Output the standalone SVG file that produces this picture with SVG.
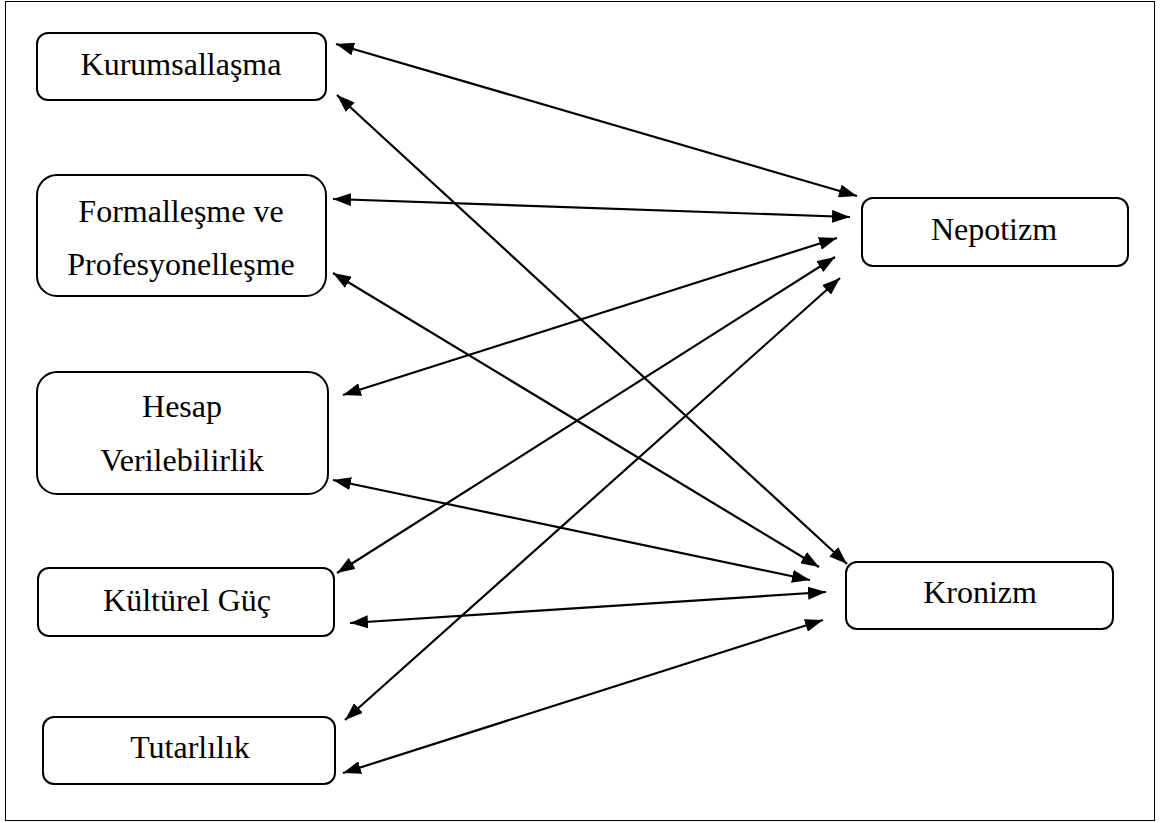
<svg xmlns="http://www.w3.org/2000/svg" width="1160" height="823" viewBox="0 0 1160 823">
<style>
.box{fill:#fff;stroke:#000;stroke-width:2}
.lbl{font-family:"Liberation Serif","Times New Roman",serif;font-size:32px;fill:#000;text-anchor:middle}
.con{stroke:#000;stroke-width:2.2;fill:none;marker-start:url(#ah);marker-end:url(#ah)}
</style>
<defs>
<marker id="ah" viewBox="0 0 18 13" refX="18" refY="6.5" markerWidth="18" markerHeight="13" markerUnits="userSpaceOnUse" orient="auto-start-reverse">
<path d="M0,0 L18,6.5 L0,13 z" fill="#000"/>
</marker>
</defs>
<rect x="5.5" y="1.5" width="1149" height="819" fill="#fff" stroke="#000" stroke-width="1"/>
<g id="connectors">
<line class="con" x1="336" y1="44" x2="857" y2="196"/>
<line class="con" x1="337" y1="95" x2="847" y2="564"/>
<line class="con" x1="333" y1="199" x2="850" y2="217"/>
<line class="con" x1="333" y1="273" x2="819" y2="567"/>
<line class="con" x1="343" y1="395" x2="837" y2="238"/>
<line class="con" x1="333" y1="480" x2="810" y2="580"/>
<line class="con" x1="337" y1="573" x2="835" y2="257"/>
<line class="con" x1="350" y1="623" x2="826" y2="592"/>
<line class="con" x1="345" y1="720" x2="840" y2="278"/>
<line class="con" x1="343" y1="773" x2="823" y2="620"/>
</g>
<g id="kurumsallasma">
<rect class="box" x="37" y="33" width="289" height="67" rx="11"/>
<text class="lbl" x="181" y="75">Kurumsallaşma</text>
</g>
<g id="formallesme">
<rect class="box" x="37" y="175" width="289" height="121" rx="20"/>
<text class="lbl" x="181" y="222">Formalleşme ve</text>
<text class="lbl" x="181" y="275">Profesyonelleşme</text>
</g>
<g id="hesap">
<rect class="box" x="37" y="372" width="291" height="122" rx="20"/>
<text class="lbl" x="182" y="417">Hesap</text>
<text class="lbl" x="182" y="471">Verilebilirlik</text>
</g>
<g id="kulturel">
<rect class="box" x="38" y="568" width="296" height="68" rx="11"/>
<text class="lbl" x="187" y="611">Kültürel Güç</text>
</g>
<g id="tutarlilik">
<rect class="box" x="43" y="717" width="292" height="67" rx="11"/>
<text class="lbl" x="190" y="758">Tutarlılık</text>
</g>
<g id="nepotizm">
<rect class="box" x="862" y="198" width="266" height="68" rx="11"/>
<text class="lbl" x="994" y="240">Nepotizm</text>
</g>
<g id="kronizm">
<rect class="box" x="846" y="562" width="267" height="67" rx="11"/>
<text class="lbl" x="980" y="603">Kronizm</text>
</g>
</svg>
